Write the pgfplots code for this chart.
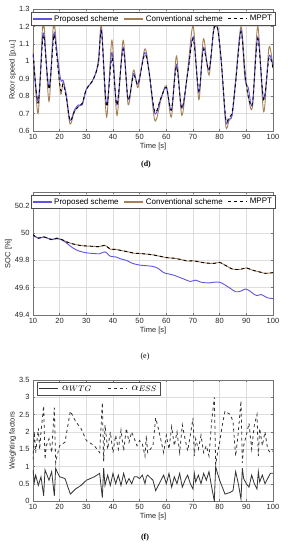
\documentclass[border=0pt]{standalone}
\usepackage{pgfplots}
\usepackage{pgfplotstable}
\pgfplotsset{compat=1.18}
\usepackage{fontspec}
\setmainfont{Liberation Sans}
\newfontfamily\seriffont{Liberation Serif}
\definecolor{propc}{RGB}{95,85,220}
\definecolor{convc}{RGB}{165,128,85}
\definecolor{axgray}{RGB}{38,38,38}
\definecolor{gridgray}{RGB}{222,222,222}

\pgfplotstableread{
t conv prop mppt
10 1.08 1.05 1.04
11.9 0.70 0.77 0.76
13.5 1.18 1.12 1.10
13.9 1.20 1.16 1.15
14.3 1.18 1.13 1.12
16.0 0.77 0.85 0.84
17.5 1.18 1.12 1.10
17.9 1.20 1.16 1.15
18.3 1.18 1.14 1.12
20.3 0.82 0.90 0.84
21.3 0.88 0.89 0.87
22.5 0.79 0.81 0.79
23.9 0.64 0.66 0.66
25.5 0.71 0.72 0.71
27 0.74 0.75 0.74
28.5 0.76 0.75 0.76
30 0.84 0.84 0.84
32 0.88 0.88 0.88
33.5 0.93 0.93 0.93
34.6 1.02 1.00 1.00
35.7 1.20 1.18 1.17
37.6 0.68 0.75 0.74
39.6 1.12 1.05 1.02
41.5 0.69 0.75 0.75
43.8 1.12 1.08 1.07
45.7 0.75 0.78 0.78
47.7 0.95 0.93 0.92
49.4 0.85 0.87 0.87
51.9 1.07 1.05 1.04
53.5 0.95 0.94 0.94
55.7 0.66 0.70 0.71
58 0.78 0.79 0.79
60 0.86 0.85 0.85
61.9 0.68 0.72 0.72
63.8 1.03 0.98 0.97
65.8 0.69 0.73 0.73
68 0.95 0.93 0.93
70.1 1.20 1.14 1.13
72.2 0.78 0.82 0.83
73.9 1.13 1.08 1.07
76 0.92 0.95 0.95
77.8 1.20 1.18 1.18
79.2 1.20 1.19 1.19
80.6 1.00 1.00 1.00
82.3 0.63 0.66 0.67
83.5 0.66 0.67 0.68
84.7 0.70 0.69 0.71
86 0.90 0.88 0.88
88 1.20 1.18 1.17
89.5 0.95 0.90 0.93
90.7 0.80 0.85 0.80
92.3 0.74 0.75 0.76
94.3 1.20 1.14 1.13
96.5 0.71 0.78 0.78
98.5 1.08 1.03 1.02
100 0.96 0.97 0.96
}\rotortable

\pgfplotstableread{
t conv
10 49.988
12 49.962
14 49.972
16 49.958
17 49.952
19 49.962
21 49.950
23 49.932
25 49.920
28 49.908
30 49.905
33 49.902
35 49.900
37 49.910
39 49.882
41 49.880
43 49.872
45 49.865
48 49.852
50 49.850
53 49.845
55 49.840
58 49.828
60 49.820
63 49.815
65 49.808
68 49.795
70 49.797
72 49.790
75 49.780
78 49.778
80 49.785
82 49.765
85 49.735
88 49.735
90 49.745
92 49.730
95 49.715
97 49.705
100 49.710
}\soctablec

\pgfplotstableread{
t prop
10 49.985
12 49.962
14 49.970
16 49.958
17 49.952
19 49.958
21 49.948
23 49.920
25 49.890
27 49.870
30 49.855
33 49.850
35 49.848
37 49.862
39 49.830
41 49.825
43 49.810
45 49.800
47 49.780
50 49.765
53 49.760
55 49.755
57 49.740
59 49.710
61 49.700
63 49.690
65 49.675
67 49.660
69 49.645
71 49.655
73 49.640
76 49.635
78 49.640
80 49.640
82 49.620
84 49.595
86 49.570
88 49.575
89.5 49.590
91 49.580
93 49.550
94 49.542
95.5 49.550
97 49.535
98 49.525
100 49.520
}\soctablep

\pgfplotstableread{
t ess
10 1.20
10.5 2.00
11 1.40
12 2.10
12.5 1.50
13 2.00
14 2.75
14.5 1.20
15 1.60
16 1.80
17 1.40
18 2.70
18.5 1.10
19 1.30
20 1.60
22 1.70
24 2.60
26 2.30
28 2.10
30 1.75
33 1.60
35 1.40
36 2.85
36.5 1.15
37 2.20
38 1.50
39 2.00
40 1.40
41 1.90
42 1.50
43 2.05
44 1.45
45 2.10
46 1.70
47 2.00
49 1.60
50 1.75
51 1.65
52 1.30
52.5 1.90
53 1.40
55 1.60
56 2.40
57 2.10
58 1.75
59 1.40
60 1.90
61 1.50
62 2.15
63 1.60
64 2.00
65 1.40
66 2.20
67 1.80
68 1.45
69 1.90
70 2.40
70.5 1.30
71 1.80
72 1.50
73 1.90
74 1.40
75 1.60
76 1.30
77 2.30
78 3.00
78.5 1.05
79 1.30
80 1.70
81 2.20
82 2.60
84 2.50
85 2.30
86 1.30
87 2.00
88 2.90
88.5 1.10
89 1.60
90 1.90
91 2.25
92 1.50
93 2.20
94 2.50
94.5 1.30
95 2.10
96 1.60
97 2.00
98 1.50
99 1.40
100 1.45
}\esstable

\pgfplotstableread{
t wtg
10 0.90
10.5 0.55
11 0.75
12 0.45
13 0.70
14 0.15
14.5 0.90
15 0.80
16 0.60
17 0.85
18 0.15
18.5 0.95
19 0.85
20 0.70
22 0.65
24 0.20
26 0.35
28 0.45
30 0.60
33 0.70
35 0.80
36 0.10
36.5 0.95
37 0.45
38 0.75
39 0.45
40 0.80
41 0.50
42 0.75
43 0.45
44 0.80
45 0.50
46 0.65
47 0.50
48 0.70
49 0.70
50 0.65
51 0.75
52 0.50
52.5 0.70
53 0.75
55 0.60
56 0.30
57 0.45
58 0.60
59 0.75
60 0.50
61 0.80
62 0.40
63 0.70
64 0.50
65 0.80
66 0.40
67 0.60
68 0.75
69 0.50
70 0.35
70.5 0.80
71 0.55
72 0.75
73 0.50
74 0.80
75 0.60
76 0.85
77 0.40
78 0.00
78.5 1.00
79 0.85
80 0.60
81 0.40
82 0.20
84 0.25
85 0.30
86 0.85
87 0.50
88 0.05
88.5 0.95
89 0.65
90 0.50
91 0.40
92 0.75
93 0.50
94 0.35
94.5 0.85
95 0.55
96 0.75
97 0.50
98 0.65
99 0.80
100 0.80
}\wtgtable

\pgfplotsset{
 legend image code/.code={\draw[#1] (0pt,0pt) -- (19pt,0pt);},
 matlab/.style={
  scale only axis, width=240pt,
  xmin=10, xmax=100, xtick={10,20,...,100},
  grid=major, major grid style={gridgray, line width=0.4pt},
  axis line style={black!55, line width=0.4pt},
  tick style={black!55, line width=0.4pt}, tick align=inside, major tick length=2pt,
  ticklabel style={font=\fontsize{7.5}{8}\selectfont, text=axgray},
  label style={font=\fontsize{7.5}{8}\selectfont, text=axgray},
  /pgf/number format/assume math mode=true,
  xlabel={Time [s]},
  xlabel style={yshift=4pt},
  ylabel style={yshift=-4pt},
  legend style={font=\fontsize{8}{9}\selectfont, draw=black!70,
    inner sep=1pt, row sep=0pt},
 }
}

\begin{document}
\begin{tikzpicture}
\useasboundingbox (0,0) rectangle (288pt,-550pt);

% (d)
\begin{axis}[matlab, at={(33pt,-9pt)}, anchor=north west, height=122pt,
  ymin=0.6, ymax=1.3, ytick={0.6,0.7,...,1.3},
  ylabel={Rotor speed [p.u.]},
  legend columns=3,
  legend style={at={(0.5,0.975)}, anchor=north,
    /tikz/every even column/.append style={column sep=3pt}},
]
\addlegendimage{propc, line width=1.2pt}
\addlegendimage{convc, line width=1.2pt}
\addlegendimage{black, dashed, line width=1pt}
\addplot[color=convc, line width=0.9pt, smooth, forget plot] table[x=t, y=conv] {\rotortable};
\addplot[color=propc, line width=0.9pt, smooth, forget plot] table[x=t, y=prop] {\rotortable};
\addplot[color=black, dashed, line width=0.9pt, smooth, forget plot] table[x=t, y=mppt] {\rotortable};
\legend{Proposed scheme, Conventional scheme, MPPT}
\end{axis}
\node[font=\seriffont\bfseries\fontsize{8}{9}\selectfont] at (146pt,-165pt) {(d)};

% (e)
\begin{axis}[matlab, at={(33pt,-192pt)}, anchor=north west, height=123pt,
  ymin=49.4, ymax=50.3, ytick={49.4,49.6,49.8,50,50.2},
  yticklabels={49.4,49.6,49.8,50,50.2},
  ylabel={SOC [\%]},
  legend columns=3,
  legend style={at={(0.5,0.975)}, anchor=north,
    /tikz/every even column/.append style={column sep=3pt}},
]
\addlegendimage{propc, line width=1.2pt}
\addlegendimage{convc, line width=1.2pt}
\addlegendimage{black, dashed, line width=1pt}
\addplot[color=convc, line width=0.9pt, smooth, forget plot] table[x=t, y=conv] {\soctablec};
\addplot[color=propc, line width=0.9pt, smooth, forget plot] table[x=t, y=prop] {\soctablep};
\addplot[color=black, dashed, line width=0.9pt, smooth, forget plot] table[x=t, y=conv] {\soctablec};
\legend{Proposed scheme, Conventional scheme, MPPT}
\end{axis}
\node[font=\seriffont\fontsize{8}{9}\selectfont] at (145pt,-357pt) {(e)};

% (f)
\begin{axis}[matlab, at={(33pt,-380pt)}, anchor=north west, height=121pt,
  ymin=0, ymax=3.5, ytick={0,0.5,...,3.5},
  yticklabels={0,0.5,1,1.5,2,2.5,3,3.5},
  ylabel={Weighting factors},
  legend columns=2,
  legend style={at={(0.015,0.985)}, anchor=north west, font=\fontsize{11}{12}\selectfont,
    inner sep=1.5pt,
    /tikz/every odd column/.append style={column sep=2pt},
    /tikz/every even column/.append style={column sep=14pt}},
]
\addlegendimage{black!80, line width=0.9pt}
\addlegendimage{black!80, dashed, line width=0.9pt}
\addplot[color=black!80, line width=0.8pt, forget plot] table[x=t, y=wtg] {\wtgtable};
\addplot[color=black!80, dashed, line width=0.8pt, forget plot] table[x=t, y=ess] {\esstable};
\legend{$\alpha_{WTG}$, $\alpha_{ESS}$}
\end{axis}
\node[font=\seriffont\bfseries\fontsize{8}{9}\selectfont] at (145pt,-538pt) {(f)};
\end{tikzpicture}
\end{document}
